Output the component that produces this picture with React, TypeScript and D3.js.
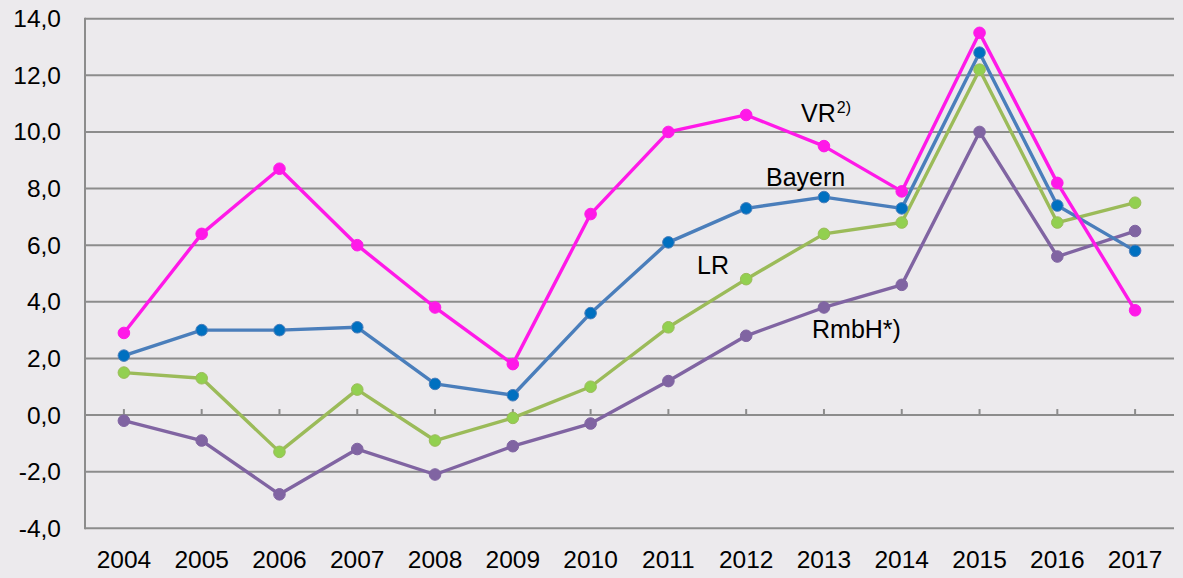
import React, { useRef, useEffect } from "react";
import * as d3 from "d3";

const years = ["2004", "2005", "2006", "2007", "2008", "2009", "2010", "2011", "2012", "2013", "2014", "2015", "2016", "2017"];
const vrValues = [2.9, 6.4, 8.7, 6.0, 3.8, 1.8, 7.1, 10.0, 10.6, 9.5, 7.9, 13.5, 8.2, 3.7];
const bayernValues = [2.1, 3.0, 3.0, 3.1, 1.1, 0.7, 3.6, 6.1, 7.3, 7.7, 7.3, 12.8, 7.4, 5.8];
const lrValues = [1.5, 1.3, -1.3, 0.9, -0.9, -0.1, 1.0, 3.1, 4.8, 6.4, 6.8, 12.2, 6.8, 7.5];
const rmbhValues = [-0.2, -0.9, -2.8, -1.2, -2.1, -1.1, -0.3, 1.2, 2.8, 3.8, 4.6, 10.0, 5.6, 6.5];
const yTicks = [-4, -2, 0, 2, 4, 6, 8, 10, 12, 14];

const series = [
  { name: "LR", values: lrValues, line: "#9bbb59", marker: "#92d050" },
  { name: "RmbH", values: rmbhValues, line: "#8064a2", marker: "#8064a2" },
  { name: "Bayern", values: bayernValues, line: "#4a7ebb", marker: "#0070c0" },
  { name: "VR", values: vrValues, line: "#ff19e8", marker: "#ff19e8" },
];

const W = 1183;
const H = 578;
const left = 85;
const right = 1174;
const top = 18.7;
const bottom = 528.3;
const font = "Liberation Sans, Arial, sans-serif";

const App = () => {
  const svgRef = useRef<SVGSVGElement>(null);

  useEffect(() => {
    const svg = d3.select(svgRef.current);
    svg.selectAll("*").remove();

    const x = d3.scaleBand().domain(years).range([left, right]);
    const y = d3.scaleLinear().domain([-4, 14]).range([bottom, top]);
    const cx = (d: string) => (x(d) as number) + x.bandwidth() / 2;

    svg.append("rect").attr("width", W).attr("height", H).attr("fill", "#eceaed");

    // gridlines
    svg.append("g")
      .selectAll("line")
      .data(yTicks)
      .enter()
      .append("line")
      .attr("x1", left)
      .attr("x2", right)
      .attr("y1", (d) => y(d))
      .attr("y2", (d) => y(d))
      .attr("stroke", "#8c8c8c")
      .attr("stroke-width", 2);

    // y axis line
    svg.append("line")
      .attr("x1", left).attr("x2", left)
      .attr("y1", top - 1).attr("y2", bottom + 1)
      .attr("stroke", "#8c8c8c").attr("stroke-width", 2);

    // category ticks on the zero line
    svg.append("g")
      .selectAll("line")
      .data(years)
      .enter()
      .append("line")
      .attr("x1", (d) => cx(d))
      .attr("x2", (d) => cx(d))
      .attr("y1", y(0) - 6)
      .attr("y2", y(0))
      .attr("stroke", "#8c8c8c")
      .attr("stroke-width", 2);

    // y labels
    svg.append("g")
      .selectAll("text")
      .data(yTicks)
      .enter()
      .append("text")
      .attr("x", 61)
      .attr("y", (d) => y(d) + 8.5)
      .attr("text-anchor", "end")
      .attr("font-family", font)
      .attr("font-size", 24.5)
      .attr("fill", "#000")
      .text((d) => d3.format(".1f")(d).replace(".", ",").replace("−", "-"));

    // x labels
    svg.append("g")
      .selectAll("text")
      .data(years)
      .enter()
      .append("text")
      .attr("x", (d) => cx(d))
      .attr("y", 568)
      .attr("text-anchor", "middle")
      .attr("font-family", font)
      .attr("font-size", 24.5)
      .attr("fill", "#000")
      .text((d) => d);

    const line = d3.line<number>()
      .x((d, i) => cx(years[i]))
      .y((d) => y(d));

    series.forEach((s) => {
      svg.append("path")
        .attr("d", line(s.values))
        .attr("fill", "none")
        .attr("stroke", s.line)
        .attr("stroke-width", 3.4)
        .attr("stroke-linejoin", "round");
    });
    series.forEach((s) => {
      svg.append("g")
        .selectAll("circle")
        .data(s.values)
        .enter()
        .append("circle")
        .attr("cx", (d, i) => cx(years[i]))
        .attr("cy", (d) => y(d))
        .attr("r", 5.8)
        .attr("fill", s.marker)
        .attr("stroke", s.line)
        .attr("stroke-width", 1);
    });

    // series labels
    const labels = svg.append("g")
      .attr("font-family", font)
      .attr("font-size", 25)
      .attr("fill", "#000");
    const vr = labels.append("text").attr("x", 801).attr("y", 122);
    vr.append("tspan").text("VR");
    vr.append("tspan").attr("font-size", 16).attr("dy", -9).attr("dx", 1).text("2)");
    labels.append("text").attr("x", 766).attr("y", 186).text("Bayern");
    labels.append("text").attr("x", 697).attr("y", 274).text("LR");
    labels.append("text").attr("x", 812).attr("y", 338).text("RmbH*)");
  }, []);

  return (
    <svg ref={svgRef} width={W} height={H} style={{ position: "absolute", left: 0, top: 0, display: "block" }} />
  );
};

export default App;
